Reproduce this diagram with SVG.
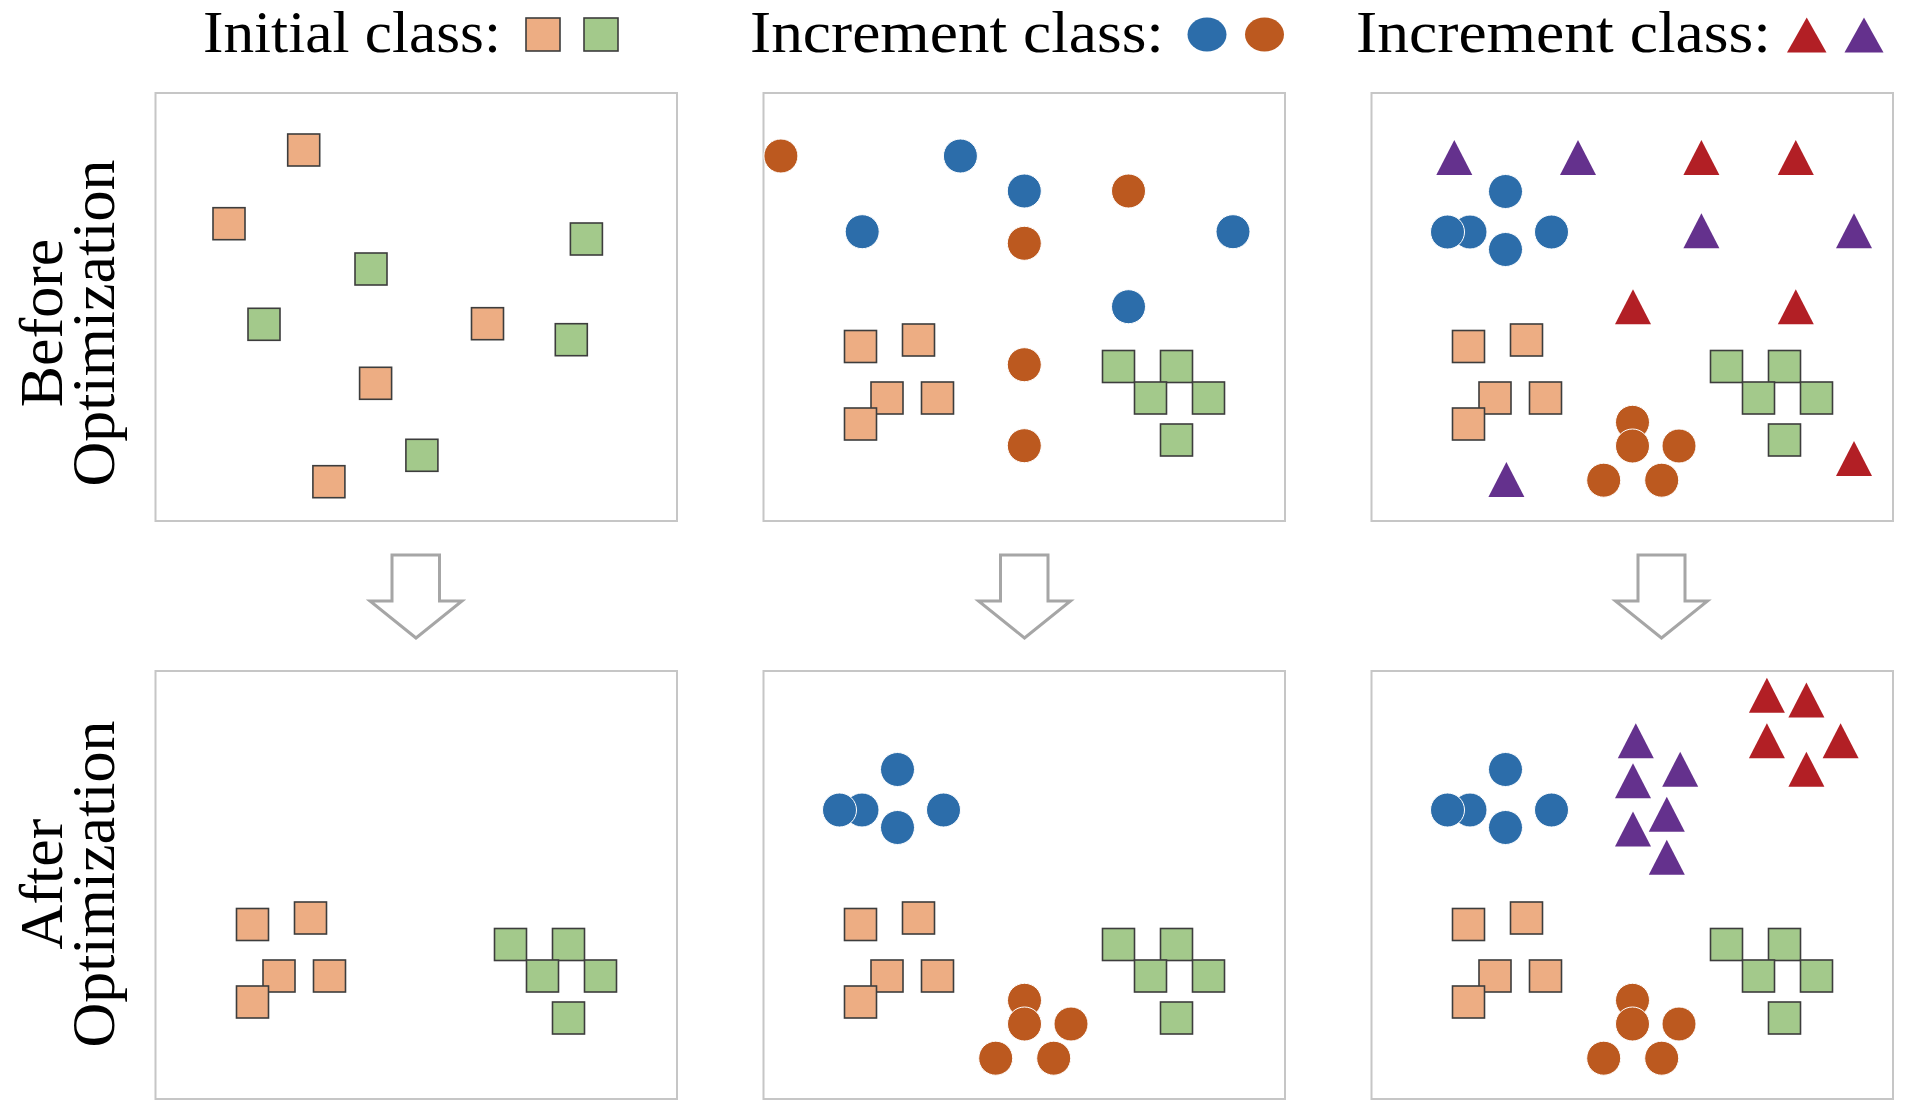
<svg xmlns="http://www.w3.org/2000/svg" xmlns:xlink="http://www.w3.org/1999/xlink" width="1913" height="1110" viewBox="0 0 1913 1110">
<style>
.lbl{font-family:"Liberation Serif","DejaVu Serif",serif;font-size:62px;fill:#000}
.ttl{font-family:"Liberation Serif","DejaVu Serif",serif;font-size:60px;fill:#000}
.panel{fill:#fff;stroke:#c6c6c6;stroke-width:2}
.arrow{fill:#fff;stroke:#a6a6a6;stroke-width:3;stroke-linejoin:miter}
.os{fill:#EDAD83;stroke:#3d3d3d;stroke-width:1.6}
.gs{fill:#A3C98B;stroke:#3d3d3d;stroke-width:1.6}
.bc{fill:#2C6DAA;stroke:#fff;stroke-width:1}
.oc{fill:#BC591F;stroke:#fff;stroke-width:1}
.rt{fill:#B21F25}
.pt{fill:#64318D}
</style>
<defs>
<rect id="sq" width="32" height="32"/>
<circle id="ci" r="17"/>
<path id="tri" d="M0,0 L18,35 L-18,35 Z"/>
<g id="squares">
<use href="#sq" class="os" x="81" y="237.5"/>
<use href="#sq" class="os" x="139" y="231"/>
<use href="#sq" class="os" x="107.5" y="289"/>
<use href="#sq" class="os" x="158" y="289"/>
<use href="#sq" class="os" x="81" y="315"/>
<use href="#sq" class="gs" x="339" y="257.5"/>
<use href="#sq" class="gs" x="397" y="257.5"/>
<use href="#sq" class="gs" x="371" y="289"/>
<use href="#sq" class="gs" x="429" y="289"/>
<use href="#sq" class="gs" x="397" y="331"/>
</g>
<g id="bluecl">
<use href="#ci" class="bc" x="134" y="98.5"/>
<use href="#ci" class="bc" x="98.5" y="139"/>
<use href="#ci" class="bc" x="76" y="139"/>
<use href="#ci" class="bc" x="134" y="156.5"/>
<use href="#ci" class="bc" x="180" y="139"/>
</g>
<g id="orangecl">
<use href="#ci" class="oc" x="261" y="329.3"/>
<use href="#ci" class="oc" x="261" y="353"/>
<use href="#ci" class="oc" x="307.5" y="353"/>
<use href="#ci" class="oc" x="232.2" y="387.2"/>
<use href="#ci" class="oc" x="290.2" y="387.2"/>
</g>
</defs>
<rect width="1913" height="1110" fill="#fff"/>

<g id="titles">
<g id="title1">
<text class="ttl" x="203" y="52" textLength="298" lengthAdjust="spacingAndGlyphs">Initial class:</text>
<rect class="os" x="526" y="18" width="34" height="33"/>
<rect class="gs" x="584" y="18" width="34" height="33"/>
</g>
<g id="title2">
<text class="ttl" x="750" y="52" textLength="414" lengthAdjust="spacingAndGlyphs">Increment class:</text>
<ellipse cx="1207" cy="34.5" rx="19.5" ry="17" fill="#2C6DAA"/>
<ellipse cx="1264.5" cy="34.5" rx="19.5" ry="17" fill="#BC591F"/>
</g>
<g id="title3">
<text class="ttl" x="1356" y="52" textLength="415" lengthAdjust="spacingAndGlyphs">Increment class:</text>
<path class="rt" d="M1806.7,17.5 L1826.5,52.5 L1787,52.5 Z"/>
<path class="pt" d="M1864,17.5 L1883.5,52.5 L1844.5,52.5 Z"/>
</g>
</g>

<g id="rowlabels">
<g id="label-before">
<text class="lbl" text-anchor="middle" transform="translate(62,323) rotate(-90)">Before</text>
<text class="lbl" text-anchor="middle" transform="translate(114,323) rotate(-90)">Optimization</text>
</g>
<g id="label-after">
<text class="lbl" text-anchor="middle" transform="translate(62,884) rotate(-90)">After</text>
<text class="lbl" text-anchor="middle" transform="translate(114,884) rotate(-90)">Optimization</text>
</g>
</g>

<g id="panel-1-before">
<rect class="panel" x="155.5" y="93" width="521.5" height="428"/>
<use href="#sq" class="os" x="287.7" y="134"/>
<use href="#sq" class="os" x="213" y="207.7"/>
<use href="#sq" class="gs" x="570.4" y="223"/>
<use href="#sq" class="gs" x="355" y="253"/>
<use href="#sq" class="gs" x="248" y="308.3"/>
<use href="#sq" class="os" x="471.5" y="307.7"/>
<use href="#sq" class="gs" x="555.3" y="323.7"/>
<use href="#sq" class="os" x="359.6" y="367.3"/>
<use href="#sq" class="gs" x="405.9" y="439.3"/>
<use href="#sq" class="os" x="312.9" y="465.7"/>
</g>

<g id="panel-2-before">
<rect class="panel" x="763.5" y="93" width="521.5" height="428"/>
<g transform="translate(763.5,93)">
<use href="#squares"/>
<use href="#ci" class="oc" x="17.4" y="63"/>
<use href="#ci" class="bc" x="196.9" y="63"/>
<use href="#ci" class="bc" x="260.8" y="98"/>
<use href="#ci" class="oc" x="365" y="98"/>
<use href="#ci" class="bc" x="98.7" y="138.7"/>
<use href="#ci" class="oc" x="260.8" y="150.3"/>
<use href="#ci" class="bc" x="469.5" y="138.7"/>
<use href="#ci" class="bc" x="365" y="213.7"/>
<use href="#ci" class="oc" x="260.8" y="271.7"/>
<use href="#ci" class="oc" x="260.8" y="352.7"/>
</g>
</g>

<g id="panel-3-before">
<rect class="panel" x="1371.5" y="93" width="521.5" height="428"/>
<g transform="translate(1371.5,93)">
<use href="#squares"/>
<use href="#bluecl"/>
<use href="#orangecl"/>
<use href="#tri" class="pt" x="82.8" y="47"/>
<use href="#tri" class="pt" x="206.5" y="47"/>
<use href="#tri" class="rt" x="329.9" y="47"/>
<use href="#tri" class="rt" x="424.3" y="47"/>
<use href="#tri" class="pt" x="329.9" y="120.3"/>
<use href="#tri" class="pt" x="482.5" y="120.3"/>
<use href="#tri" class="rt" x="261.5" y="196.3"/>
<use href="#tri" class="rt" x="424.3" y="196.3"/>
<use href="#tri" class="rt" x="482.5" y="348"/>
<use href="#tri" class="pt" x="134.9" y="369"/>
</g>
</g>

<g id="connectors">
<path class="arrow" d="M392,555 H439.5 V601 H462 L416,638 L370,601 H392 Z"/>
<path class="arrow" d="M1000.5,555 H1048 V601 H1070.5 L1024.5,638 L978.5,601 H1000.5 Z"/>
<path class="arrow" d="M1638,555 H1685 V601 H1707.5 L1661.5,638 L1615.5,601 H1638 Z"/>
</g>

<g id="panel-1-after">
<rect class="panel" x="155.5" y="671" width="521.5" height="428"/>
<g transform="translate(155.5,671)">
<use href="#squares"/>
</g>
</g>

<g id="panel-2-after">
<rect class="panel" x="763.5" y="671" width="521.5" height="428"/>
<g transform="translate(763.5,671)">
<use href="#squares"/>
<use href="#bluecl"/>
<use href="#orangecl"/>
</g>
</g>

<g id="panel-3-after">
<rect class="panel" x="1371.5" y="671" width="521.5" height="428"/>
<g transform="translate(1371.5,671)">
<use href="#squares"/>
<use href="#bluecl"/>
<use href="#orangecl"/>
<use href="#tri" class="rt" x="395.4" y="6.8"/>
<use href="#tri" class="rt" x="434.9" y="11.6"/>
<use href="#tri" class="rt" x="395.4" y="52.3"/>
<use href="#tri" class="rt" x="469.1" y="52.3"/>
<use href="#tri" class="rt" x="434.9" y="80.7"/>
<use href="#tri" class="pt" x="264.3" y="52.3"/>
<use href="#tri" class="pt" x="308.7" y="80.7"/>
<use href="#tri" class="pt" x="261.5" y="92.2"/>
<use href="#tri" class="pt" x="295.3" y="125.8"/>
<use href="#tri" class="pt" x="261.5" y="140.6"/>
<use href="#tri" class="pt" x="295.3" y="168.7"/>
</g>
</g>
</svg>
